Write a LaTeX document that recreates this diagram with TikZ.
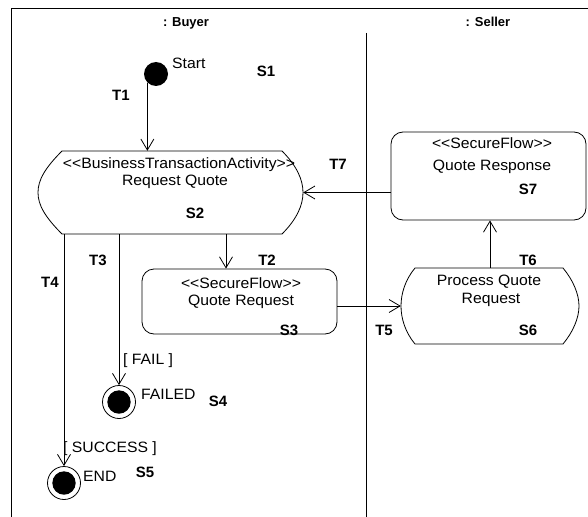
\documentclass[tikz,border=0pt]{standalone}
\usepackage{fontspec}
\setmainfont{Liberation Sans}
\newfontfamily\widefont[FakeStretch=1.05]{Liberation Sans}
\usetikzlibrary{arrows.meta}
\begin{document}
\begin{tikzpicture}[x=1pt,y=-1pt,
  txt/.style={font=\widefont\fontsize{15}{18}\selectfont, inner sep=0pt, text height=10.7pt, text depth=0pt},
  lbl/.style={txt, font=\fontsize{15}{18}\selectfont\bfseries},
  lane/.style={font=\fontsize{13}{16}\selectfont\bfseries, inner sep=0pt, text height=9.3pt, text depth=0pt},
  arr/.style={line width=0.8pt, -{Straight Barb[length=11pt,width=13pt,line width=0.8pt]}},
  outline/.style={line width=0.8pt},
  anchorbox/.style={rectangle, inner sep=0pt, minimum width=#1},
  pseudo/.style={circle, fill=black, inner sep=0pt, minimum size=24pt},
  final/.style={circle, draw, line width=0.8pt, inner sep=0pt, minimum size=33pt,
    path picture={\fill[black] (path picture bounding box.center) circle[radius=11.7pt];}}
]
\useasboundingbox (0,0) rectangle (588,516);
\clip (0,0) rectangle (588,516);
\fill[white] (0,0) rectangle (588,516);

% frame and swimlanes
\draw[line width=1pt] (11,9) rectangle (600,530);
\draw[line width=0.8pt] (366,33) -- (366,520);
\node[lane] (buyer) at (186,22) {: Buyer};
\node[lane] (seller) at (488,22) {: Seller};

% states: anchor boxes
\node[anchorbox=265pt, minimum height=83pt] (s2) at (170.5,192.5) {};
\node[anchorbox=178pt, minimum height=76pt] (s6) at (490,306) {};
\node[draw, outline, rounded corners=12pt, anchorbox=195pt, minimum height=65pt] (s3) at (239.5,301.5) {};
\node[draw, outline, rounded corners=12pt, anchorbox=195pt, minimum height=88pt] (s7) at (488.5,176) {};

% activity state outlines
\draw[outline] (62,151) -- (282,151)
  .. controls (297,166) and (303,180) .. (303,192.5)
  .. controls (303,205) and (297,219) .. (282,234)
  -- (62,234)
  .. controls (45,217) and (38,205) .. (38,192.5)
  .. controls (38,180) and (45,168) .. cycle;
\draw[outline] (415,268) -- (563,268)
  .. controls (573,280) and (579,294) .. (579,306)
  .. controls (579,318) and (573,332) .. (563,344)
  -- (415,344)
  .. controls (405,332) and (401,318) .. (401,306)
  .. controls (401,294) and (405,280) .. cycle;

% pseudo states
\node[pseudo] (start) at (156,74) {};
\node[final] (failed) at (119,402) {};
\node[final] (end) at (64,483) {};

% state texts
\node[txt, anchor=west] (starttxt) at (172,63) {Start};
\node[lbl] (s1lbl) at (266,71) {S1};
\node[txt] (s2a) at (179,163) {<{}<BusinessTransactionActivity>{}>};
\node[txt] (s2b) at (175,180) {Request Quote};
\node[lbl] (s2lbl) at (195,213) {S2};
\node[txt] (s3a) at (241,283) {<{}<SecureFlow>{}>};
\node[txt] (s3b) at (241,300) {Quote Request};
\node[lbl] (s3lbl) at (289,330) {S3};
\node[txt] (s7a) at (492,143) {<{}<SecureFlow>{}>};
\node[txt] (s7b) at (492,165) {Quote Response};
\node[lbl] (s7lbl) at (528,189) {S7};
\node[txt] (s6a) at (489,280) {Process Quote};
\node[txt] (s6b) at (491,298) {Request};
\node[lbl] (s6lbl) at (528,330) {S6};
\node[txt, anchor=west] (failedtxt) at (141,394) {FAILED};
\node[lbl] (s4lbl) at (218,401) {S4};
\node[txt, anchor=west] (endtxt) at (83,476) {END};
\node[lbl] (s5lbl) at (145,472) {S5};

% transitions
\draw[arr] (start.south west) -- (start.south west |- s2.north);
\draw[arr] ([xshift=-13.5pt]s3.north |- s2.south) -- ([xshift=-13.5pt]s3.north);
\draw[arr] (failed.north |- s2.south) -- (failed.north);
\draw[arr] (end.north |- s2.south) -- (end.north);
\draw[arr] (s3.east |- s6.west) -- (s6.west);
\draw[arr] (s6.north) -- (s6.north |- s7.south);
\draw[arr] (s2.east -| s7.west) -- (s2.east);

% transition labels and guards
\node[lbl] (t1) at (121,95) {T1};
\node[lbl] (t2) at (267,260) {T2};
\node[lbl] (t3) at (98,260) {T3};
\node[lbl] (t4) at (50,282) {T4};
\node[lbl] (t5) at (384,330) {T5};
\node[lbl] (t6) at (528,260) {T6};
\node[lbl] (t7) at (338,164) {T7};
\node[txt, anchor=west] (guardfail) at (123,359) {[ FAIL ]};
\node[txt, anchor=west] (guardok) at (63,447) {[ SUCCESS ]};
\end{tikzpicture}
\end{document}
